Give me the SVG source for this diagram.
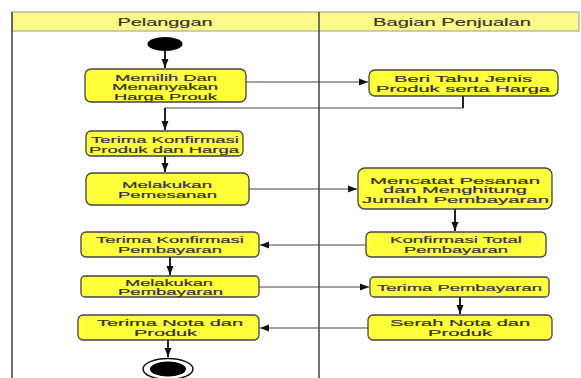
<svg xmlns="http://www.w3.org/2000/svg" width="581" height="378" viewBox="0 0 581 378">
<style>
.lane{fill:none;stroke:#444;stroke-width:1.5}
.hdr{fill:#fdf986;stroke:#999;stroke-width:1}
.hl{font-family:"Liberation Sans",Arial,sans-serif;font-size:10.5px;fill:#333;text-anchor:middle;stroke:#333;stroke-width:0.15}
.node rect{fill:#ffff3a;stroke:#444;stroke-width:1.3}
.node text{font-family:"Liberation Sans",Arial,sans-serif;font-size:9.5px;fill:#333;text-anchor:middle;stroke:#333;stroke-width:0.2}
.c{fill:none;stroke:#444;stroke-width:1}
.v{fill:none;stroke:#222;stroke-width:2}
</style>
<defs>
<marker id="ah" markerUnits="userSpaceOnUse" markerWidth="10" markerHeight="8" refX="9" refY="4" orient="auto">
<path d="M0,0.5 L9,4 L0,7.5 Z" fill="#111"/>
</marker>
</defs>
<rect width="581" height="378" fill="#fff"/>
<g id="lanes">
<rect class="hdr" x="12" y="12" width="567" height="19"/>
<line class="lane" x1="12" y1="12" x2="12" y2="378"/>
<line class="lane" x1="319" y1="12" x2="319" y2="378"/>
<text class="hl" x="165" y="25.5" textLength="95" lengthAdjust="spacingAndGlyphs">Pelanggan</text>
<text class="hl" x="452" y="25.5" textLength="158" lengthAdjust="spacingAndGlyphs">Bagian Penjualan</text>
</g>
<g id="connectors">
<path class="v" d="M165 51 V68" marker-end="url(#ah)"/>
<path class="c" d="M246 82 H368" marker-end="url(#ah)"/>
<path class="c" d="M463 96 V108 H165"/>
<path class="v" d="M463 96 V108"/>
<path class="v" d="M165 108 V130" marker-end="url(#ah)"/>
<path class="v" d="M165 156 V172" marker-end="url(#ah)"/>
<path class="c" d="M249 189 H357" marker-end="url(#ah)"/>
<path class="v" d="M455 209 V231" marker-end="url(#ah)"/>
<path class="c" d="M366 245 H260" marker-end="url(#ah)"/>
<path class="v" d="M170 257 V275" marker-end="url(#ah)"/>
<path class="c" d="M259 287 H369" marker-end="url(#ah)"/>
<path class="v" d="M460 297 V314" marker-end="url(#ah)"/>
<path class="c" d="M368 328 H260" marker-end="url(#ah)"/>
<path class="v" d="M168 340 V357" marker-end="url(#ah)"/>
</g>
<g id="start"><ellipse cx="165" cy="44" rx="17.5" ry="7" fill="#000"/></g>
<g id="n1" class="node">
<rect x="85" y="69" width="161" height="33" rx="6"/>
<text x="166" y="80.5" textLength="102" lengthAdjust="spacingAndGlyphs">Memilih Dan</text>
<text x="165" y="90" textLength="106" lengthAdjust="spacingAndGlyphs">Menanyakan</text>
<text x="165.5" y="99.5" textLength="103" lengthAdjust="spacingAndGlyphs">Harga Prouk</text>
</g>
<g id="n2" class="node">
<rect x="369" y="70" width="189" height="26" rx="6"/>
<text x="463" y="82" textLength="138" lengthAdjust="spacingAndGlyphs">Beri Tahu Jenis</text>
<text x="463" y="92" textLength="174" lengthAdjust="spacingAndGlyphs">Produk serta Harga</text>
</g>
<g id="n3" class="node">
<rect x="86" y="131" width="157" height="25" rx="5"/>
<text x="165" y="142.5" textLength="148" lengthAdjust="spacingAndGlyphs">Terima Konfirmasi</text>
<text x="164" y="152.5" textLength="150" lengthAdjust="spacingAndGlyphs">Produk dan Harga</text>
</g>
<g id="n4" class="node">
<rect x="86" y="173" width="163" height="32" rx="6"/>
<text x="167" y="187.5" textLength="90" lengthAdjust="spacingAndGlyphs">Melakukan</text>
<text x="167.5" y="197.5" textLength="99" lengthAdjust="spacingAndGlyphs">Pemesanan</text>
</g>
<g id="n5" class="node">
<rect x="358" y="168" width="194" height="41" rx="7"/>
<text x="455" y="183.5" textLength="170" lengthAdjust="spacingAndGlyphs">Mencatat Pesanan</text>
<text x="455" y="193" textLength="144" lengthAdjust="spacingAndGlyphs">dan Menghitung</text>
<text x="455.5" y="202.5" textLength="187" lengthAdjust="spacingAndGlyphs">Jumlah Pembayaran</text>
</g>
<g id="n6" class="node">
<rect x="366" y="232" width="180" height="25" rx="5"/>
<text x="456" y="243" textLength="132" lengthAdjust="spacingAndGlyphs">Konfirmasi Total</text>
<text x="456" y="252.5" textLength="104" lengthAdjust="spacingAndGlyphs">Pembayaran</text>
</g>
<g id="n7" class="node">
<rect x="81" y="232" width="178" height="25" rx="5"/>
<text x="170" y="243" textLength="148" lengthAdjust="spacingAndGlyphs">Terima Konfirmasi</text>
<text x="170" y="252.5" textLength="104" lengthAdjust="spacingAndGlyphs">Pembayaran</text>
</g>
<g id="n8" class="node">
<rect x="81" y="276" width="178" height="21" rx="4"/>
<text x="169" y="285.5" textLength="88" lengthAdjust="spacingAndGlyphs">Melakukan</text>
<text x="170.5" y="295" textLength="105" lengthAdjust="spacingAndGlyphs">Pembayaran</text>
</g>
<g id="n9" class="node">
<rect x="370" y="277" width="179" height="20" rx="4"/>
<text x="459.5" y="290.5" textLength="165" lengthAdjust="spacingAndGlyphs">Terima Pembayaran</text>
</g>
<g id="n10" class="node">
<rect x="368" y="315" width="184" height="25" rx="5"/>
<text x="460" y="326" textLength="140" lengthAdjust="spacingAndGlyphs">Serah Nota dan</text>
<text x="460" y="335.5" textLength="64" lengthAdjust="spacingAndGlyphs">Produk</text>
</g>
<g id="n11" class="node">
<rect x="78" y="315" width="181" height="25" rx="5"/>
<text x="170" y="326" textLength="146" lengthAdjust="spacingAndGlyphs">Terima Nota dan</text>
<text x="165.5" y="335.5" textLength="63" lengthAdjust="spacingAndGlyphs">Produk</text>
</g>
<g id="end">
<ellipse cx="168" cy="369" rx="25" ry="10.5" fill="#fff" stroke="#111" stroke-width="1.5"/>
<ellipse cx="168" cy="369" rx="18" ry="7.5" fill="#000"/>
</g>
</svg>
